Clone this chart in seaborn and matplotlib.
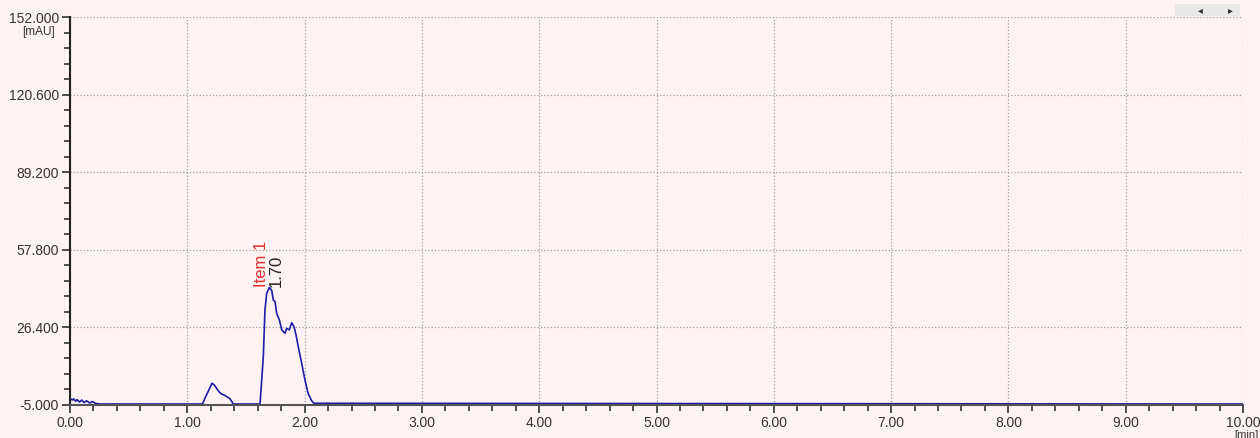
import numpy as np
import pandas as pd
import seaborn as sns
import matplotlib.pyplot as plt
from matplotlib.ticker import MultipleLocator, FixedLocator

# chromatogram (time in min, signal in mAU)
time_min = [0.00, 0.02, 0.03, 0.05, 0.06, 0.08, 0.10, 0.12, 0.14, 0.17, 0.19, 0.22, 0.26,
            1.13, 1.15, 1.17, 1.19, 1.21, 1.23, 1.25, 1.27, 1.29, 1.315, 1.335, 1.36, 1.38, 1.39,
            1.62, 1.648, 1.662, 1.677, 1.70, 1.72, 1.733, 1.748, 1.762, 1.785, 1.805, 1.833,
            1.847, 1.87, 1.89, 1.91, 1.927, 1.946, 1.975, 2.003, 2.03, 2.06, 2.08, 10.00]
signal_mau = [-2.3, -3.0, -2.5, -3.5, -2.8, -3.8, -3.0, -4.0, -3.3, -4.2, -3.6, -4.4, -4.6,
              -4.6, -2.3, -0.3, 1.7, 3.8, 3.1, 1.7, 0.4, -0.5, -1.0, -1.6, -2.3, -3.6, -4.6,
              -4.6, 14.5, 33.4, 40.2, 42.6, 41.3, 37.5, 36.8, 32.1, 29.4, 25.4, 24.0,
              26.0, 25.4, 28.3, 26.7, 23.3, 18.6, 11.9, 5.1, -0.3, -3.3, -4.3, -4.6]

y_ticks = [-5.0, 26.4, 57.8, 89.2, 120.6, 152.0]
x_ticks = [0, 1, 2, 3, 4, 5, 6, 7, 8, 9, 10]
peak_name = 'Item 1'
peak_time = 1.70
peak_height = 42.6

bg = '#fdf3f3'

sns.set_theme(style='ticks')
plt.rcParams['font.family'] = ['Liberation Sans', 'DejaVu Sans']

df = pd.DataFrame({'time': time_min, 'signal': signal_mau})

fig = plt.figure(figsize=(12.6, 4.38), dpi=100, facecolor=bg)
ax = fig.add_axes([70 / 1260, 1 - 405 / 438, (1243 - 70) / 1260, (405 - 17) / 438])
ax.set_facecolor(bg)

sns.lineplot(data=df, x='time', y='signal', ax=ax, sort=False, estimator=None,
             color='#1c1ca8', linewidth=1.2)

ax.set_xlim(0, 10)
ax.set_ylim(-5, 152)
ax.xaxis.set_major_locator(FixedLocator(x_ticks))
ax.xaxis.set_minor_locator(MultipleLocator(0.2))
ax.yaxis.set_major_locator(FixedLocator(y_ticks))
ax.yaxis.set_minor_locator(FixedLocator([-5 + 6.28 * k for k in range(26)]))
ax.set_xticklabels([f'{v:.2f}' for v in x_ticks])
ax.set_yticklabels([f'{v:.3f}' for v in y_ticks])
ax.set_xlabel('')
ax.set_ylabel('')

ax.tick_params(axis='both', which='major', labelsize=10, labelcolor='#333333', length=6,
               width=1.2, color='#333333', pad=2)
ax.tick_params(axis='both', which='minor', length=4, width=1.2, color='#333333')
ax.grid(True, which='major', linestyle=':', color='#a0a0a0', linewidth=0.9)

for side in ['top', 'right']:
    ax.spines[side].set_visible(False)
ax.spines['left'].set_color('#222222')
ax.spines['left'].set_linewidth(1.5)
ax.spines['bottom'].set_color('#555555')
ax.spines['bottom'].set_linewidth(1.5)

# unit labels under the end ticks
ax.text(-0.027, 0.978, '[mAU]', transform=ax.transAxes, fontsize=8.5, color='#333333',
        ha='center', va='top')
ax.text(1.0025, -0.064, '[min]', transform=ax.transAxes, fontsize=8, color='#333333',
        ha='center', va='top')

# peak labels
ax.text(peak_time - 0.065, peak_height + 0.3, peak_name, rotation=90, color='#e03030',
        fontsize=12, ha='center', va='bottom')
ax.text(peak_time + 0.06, peak_height + 0.3, f'{peak_time:.2f}', rotation=90, color='#222222',
        fontsize=12, ha='center', va='bottom')

# small scroll widget in the corner
fig.patches.append(plt.Rectangle((1175 / 1260, 1 - 16 / 438), 65 / 1260, 12 / 438,
                                 transform=fig.transFigure, facecolor='#e8e8e8',
                                 edgecolor='none'))
fig.text(1200 / 1260, 1 - 10 / 438, '\u25c2', fontsize=7, color='#333333', ha='center',
         va='center', family=['DejaVu Sans'])
fig.text(1230 / 1260, 1 - 10 / 438, '\u25b8', fontsize=7, color='#333333', ha='center',
         va='center', family=['DejaVu Sans'])

fig.savefig('out.png', dpi=100, facecolor=bg)
